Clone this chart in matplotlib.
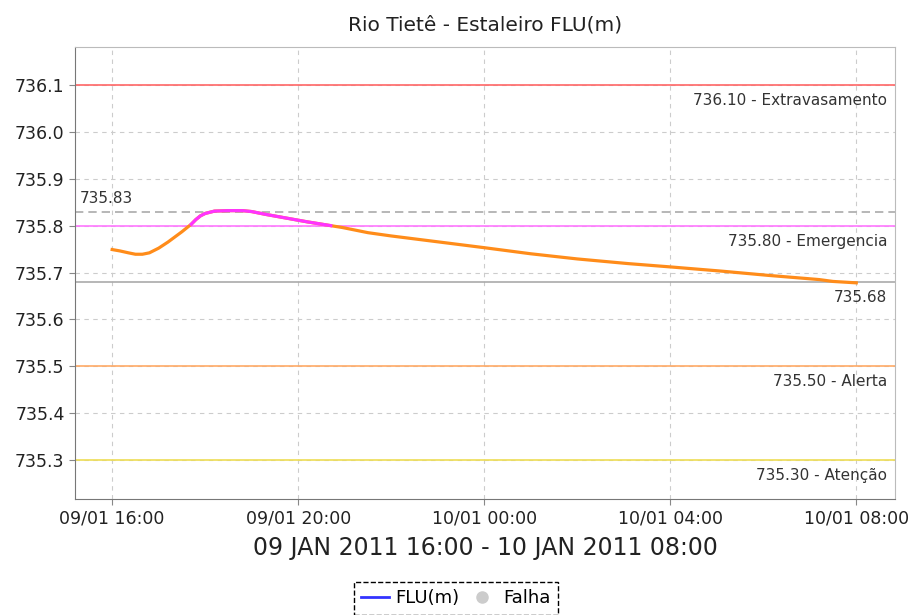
import numpy as np
import pandas as pd
import matplotlib
matplotlib.use('Agg')
import matplotlib.pyplot as plt
import matplotlib.dates as mdates
from matplotlib.lines import Line2D
from matplotlib.transforms import blended_transform_factory

# horas depois de 09/01 16:00 e nivel (m)
horas = [0, 0.17, 0.35, 0.5, 0.65, 0.8, 1.0, 1.2, 1.35, 1.5, 1.6, 1.7, 1.8, 1.9, 2.0,
         2.2, 2.5, 2.8, 3.0, 3.3, 3.75, 4.2, 4.45, 4.7, 4.95, 5.2, 5.5, 6.0, 6.8,
         8.0, 9.0, 10.0, 11.1, 12.0, 13.1, 14.1, 15.2, 15.5, 16.0]
nivel = [735.749, 735.746, 735.742, 735.739, 735.739, 735.742, 735.752, 735.765,
         735.776, 735.787, 735.795, 735.803, 735.813, 735.821, 735.826,
         735.831, 735.832, 735.832, 735.830, 735.824, 735.816, 735.808, 735.804,
         735.800, 735.796, 735.791, 735.785, 735.778, 735.768,
         735.753, 735.740, 735.729, 735.719, 735.712, 735.703,
         735.694, 735.685, 735.681, 735.678]

cotas = [736.10, 735.80, 735.50, 735.30]
cotas_nomes = ['Extravasamento', 'Emergencia', 'Alerta', 'Atenção']
cotas_cores = ['#ff6666', '#ff77ff', '#ffaa66', '#eedd55']
maximo = 735.83
minimo = 735.68

inicio = pd.Timestamp('2011-01-09 16:00')
tempo = inicio + pd.to_timedelta(horas, unit='h')
nivel = np.array(nivel)

fig = plt.figure(figsize=(9.12, 6.15), dpi=100)
ax = fig.add_axes([0.0822, 0.1886, 0.8992, 0.735])

for c, cor in zip(cotas, cotas_cores):
    ax.axhline(c, color=cor, lw=1.2, zorder=2)
ax.axhline(maximo, color='#aaaaaa', lw=1.2, ls=(0, (5, 3)), zorder=2)
ax.axhline(minimo, color='#aaaaaa', lw=1.2, zorder=2)

ax.plot(tempo, nivel, color='#ff8c1a', lw=2.3, zorder=3)
acima = np.where(nivel >= 735.80, nivel, np.nan)
ax.plot(tempo, acima, color='#ff33ff', lw=2.3, zorder=4)

trans = blended_transform_factory(ax.transAxes, ax.transData)
for c, nome in zip(cotas, cotas_nomes):
    ax.annotate(f'{c:.2f} - {nome}', xy=(1, c), xycoords=trans, xytext=(-8, -8),
                textcoords='offset pixels', ha='right', va='top',
                fontsize=11, color='#333333')
ax.annotate(f'{maximo:.2f}', xy=(0, maximo), xycoords=trans, xytext=(5, 6),
            textcoords='offset pixels', ha='left', va='bottom', fontsize=11, color='#333333')
ax.annotate(f'{minimo:.2f}', xy=(1, minimo), xycoords=trans, xytext=(-8, -8),
            textcoords='offset pixels', ha='right', va='top', fontsize=11, color='#333333')

ax.set_ylim(735.217, 736.181)
ax.set_yticks(np.arange(735.3, 736.15, 0.1))
ax.yaxis.set_major_formatter(plt.FormatStrFormatter('%.1f'))
ax.set_xlim(pd.Timestamp('2011-01-09 15:12'), pd.Timestamp('2011-01-10 08:50'))
ax.xaxis.set_major_locator(mdates.HourLocator(byhour=[0, 4, 8, 12, 16, 20]))
ax.xaxis.set_major_formatter(mdates.DateFormatter('%d/%m %H:%M'))

ax.grid(True, color='#cccccc', ls=(0, (4, 4)), lw=0.8)
ax.tick_params(labelsize=12.5, colors='#888888', labelcolor='#222222', length=4)
for s in ['top', 'right']:
    ax.spines[s].set_color('#bbbbbb')
for s in ['left', 'bottom']:
    ax.spines[s].set_color('#777777')

ax.set_title('Rio Tietê - Estaleiro FLU(m)', fontsize=14.5, pad=12, color='#222222')
ax.set_xlabel('09 JAN 2011 16:00 - 10 JAN 2011 08:00', fontsize=17, labelpad=6, color='#222222')

handles = [Line2D([], [], color='#3333ff', lw=2),
           Line2D([], [], color='#cccccc', marker='o', ls='', markersize=8)]
leg = fig.legend(handles, ['FLU(m)', 'Falha'], loc='upper center', bbox_to_anchor=(0.5, 0.068),
                 ncol=2, fontsize=13, fancybox=False, edgecolor='black', framealpha=1,
                 handlelength=1.5, handletextpad=0.4, columnspacing=0.5, borderpad=0.4)
leg.get_frame().set_linestyle('--')

plt.savefig('out.png', dpi=100)
